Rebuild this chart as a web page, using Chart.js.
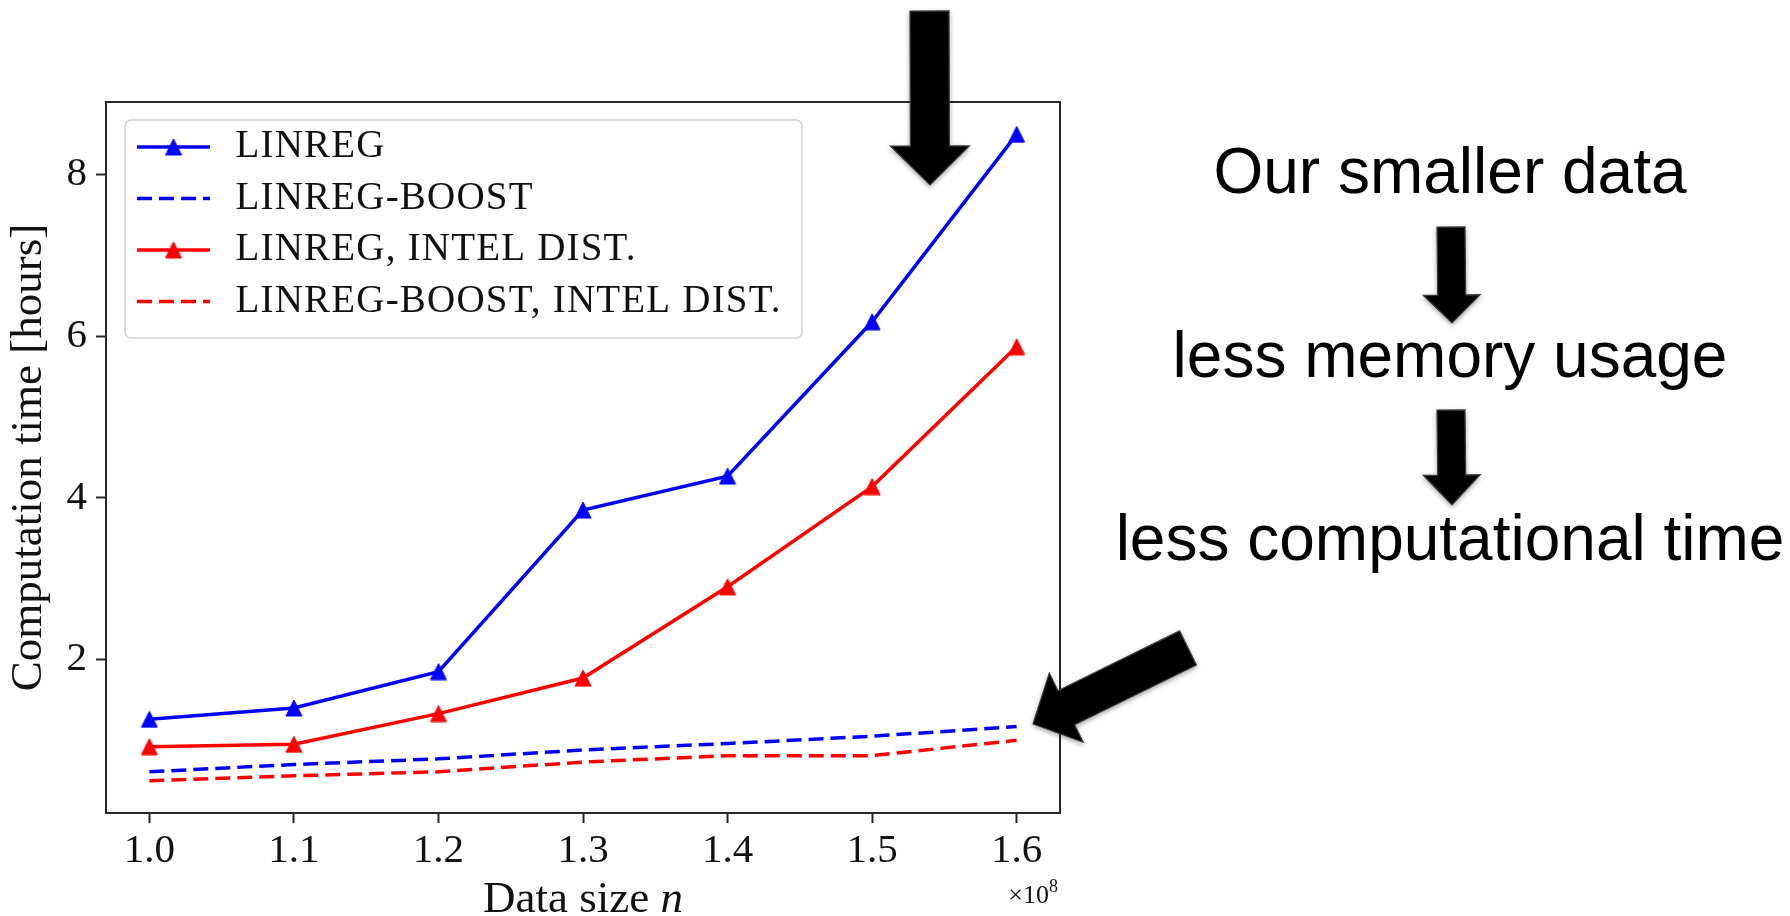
<!DOCTYPE html>
<html>
<head>
<meta charset="utf-8">
<script src="https://cdn.jsdelivr.net/npm/chart.js@4.4.0/dist/chart.umd.min.js"></script>
<style>
  html, body { margin: 0; padding: 0; background: #ffffff; }
  #wrap { position: relative; width: 1790px; height: 916px; overflow: hidden; }
  #chart { position: absolute; left: 0; top: 0; }
  #notes { position: absolute; left: 0; top: 0; pointer-events: none; }
</style>
</head>
<body>
<div id="wrap">
  <canvas id="chart" width="1790" height="916"></canvas>
  <svg id="notes" width="1790" height="916" xmlns="http://www.w3.org/2000/svg"></svg>
</div>
<script>
// Data sizes (in units of 10^8 rows) and measured run times in hours
const dataSizes        = [1.0, 1.1, 1.2, 1.3, 1.4, 1.5, 1.6];
const linreg           = [1.26, 1.40, 1.85, 3.85, 4.27, 6.18, 8.50];
const linregBoost      = [0.61, 0.70, 0.77, 0.88, 0.96, 1.05, 1.17];
const linregIntel      = [0.92, 0.95, 1.33, 1.77, 2.90, 4.14, 5.87];
const linregBoostIntel = [0.50, 0.56, 0.61, 0.73, 0.81, 0.81, 1.00];

const seriesNames = ['LINREG', 'LINREG-BOOST', 'LINREG, INTEL DIST.', 'LINREG-BOOST, INTEL DIST.'];
const xTickValues = [1.0, 1.1, 1.2, 1.3, 1.4, 1.5, 1.6];
const yTickValues = [2, 4, 6, 8];
const xTitleText = 'Data size ';
const xTitleSymbol = 'n';
const xOffsetBase = '\u00d710';
const xOffsetExp = '8';
const yTitleText = 'Computation time [hours]';
const noteLines = ['Our smaller data', 'less memory usage', 'less computational time'];

const SERIF = '"Liberation Serif", "Times New Roman", serif';
const BLUE = '#0000ff';
const RED = '#ff0000';

// axis limits with a 5% margin around the data, like matplotlib autoscaling
function paddedRange(values, frac) {
  const lo = Math.min(...values), hi = Math.max(...values);
  const pad = (hi - lo) * frac;
  return [lo - pad, hi + pad];
}
const [xMin, xMax] = paddedRange(dataSizes, 0.05);
const [yMin, yMax] = paddedRange([].concat(linreg, linregBoost, linregIntel, linregBoostIntel), 0.05);

// "^" marker: triangle with equal width and height
function triangleMarker(color, size) {
  const c = document.createElement('canvas');
  c.width = size + 2; c.height = size + 2;
  const g = c.getContext('2d');
  g.fillStyle = color;
  g.strokeStyle = color;
  g.lineWidth = 1;
  g.beginPath();
  g.moveTo(1 + size / 2, 1);
  g.lineTo(1 + size, 1 + size);
  g.lineTo(1, 1 + size);
  g.closePath();
  g.fill();
  g.stroke();
  return c;
}
const blueTri = triangleMarker(BLUE, 16);
const redTri = triangleMarker(RED, 16);

const toPoints = ys => dataSizes.map((x, i) => ({ x: x, y: ys[i] }));

function series(label, values, color, dashed, marker) {
  return {
    label: label,
    data: toPoints(values),
    borderColor: color,
    backgroundColor: color,
    borderWidth: 3.5,
    borderDash: dashed ? [15, 7] : [],
    pointStyle: marker || 'circle',
    pointRadius: marker ? 8 : 0,
    pointHoverRadius: marker ? 8 : 0,
    tension: 0,
    fill: false
  };
}

// legend box drawn inside the plot, upper left
const boxLegend = {
  id: 'boxLegend',
  afterDatasetsDraw(chart) {
    const { ctx, chartArea } = chart;
    const left = chartArea.left + 19, top = chartArea.top + 18;
    const w = 677, h = 218;
    ctx.save();
    ctx.fillStyle = 'rgba(255,255,255,0.85)';
    ctx.strokeStyle = '#cfcfcf';
    ctx.lineWidth = 1.5;
    ctx.beginPath();
    ctx.roundRect(left, top, w, h, 6);
    ctx.fill();
    ctx.stroke();
    chart.data.datasets.forEach((ds, i) => {
      const y = top + 27 + i * 51.5;
      ctx.strokeStyle = ds.borderColor;
      ctx.lineWidth = ds.borderWidth;
      ctx.setLineDash(ds.borderDash || []);
      ctx.beginPath();
      ctx.moveTo(left + 12, y);
      ctx.lineTo(left + 85, y);
      ctx.stroke();
      ctx.setLineDash([]);
      if (ds.pointStyle && typeof ds.pointStyle === 'object') {
        const m = ds.pointStyle;
        ctx.drawImage(m, left + 48.5 - m.width / 2, y - m.height / 2);
      }
      ctx.fillStyle = '#111111';
      ctx.font = '39px ' + SERIF;
      if ('letterSpacing' in ctx) ctx.letterSpacing = '1.2px';
      ctx.textBaseline = 'middle';
      ctx.textAlign = 'left';
      ctx.fillText(ds.label, left + 110.5, y);
      if ('letterSpacing' in ctx) ctx.letterSpacing = '0px';
    });
    ctx.restore();
  }
};

// full box frame around the plotting area
const axesFrame = {
  id: 'axesFrame',
  afterDraw(chart) {
    const { ctx, chartArea } = chart;
    ctx.save();
    ctx.strokeStyle = '#262626';
    ctx.lineWidth = 2;
    ctx.strokeRect(chartArea.left, chartArea.top, chartArea.right - chartArea.left, chartArea.bottom - chartArea.top);
    ctx.restore();
  }
};

// x axis title with an italic symbol, and the x10^8 offset text
const xAxisText = {
  id: 'xAxisText',
  afterDraw(chart) {
    const { ctx, chartArea } = chart;
    const xs = chart.scales.x;
    ctx.save();
    ctx.fillStyle = '#111111';
    ctx.textBaseline = 'alphabetic';
    ctx.textAlign = 'left';
    const regular = '45px ' + SERIF;
    const italic = 'italic 45px ' + SERIF;
    ctx.font = regular;
    const w1 = ctx.measureText(xTitleText).width;
    ctx.font = italic;
    const w2 = ctx.measureText(xTitleSymbol).width;
    const cx = (chartArea.left + chartArea.right) / 2;
    const base = xs.bottom - 4;
    const x0 = cx - (w1 + w2) / 2;
    ctx.font = regular;
    ctx.fillText(xTitleText, x0, base);
    ctx.font = italic;
    ctx.fillText(xTitleSymbol, x0 + w1, base);

    // offset multiplier at the right end of the axis
    const baseFont = '26px ' + SERIF;
    const expFont = '18px ' + SERIF;
    ctx.font = expFont;
    const we = ctx.measureText(xOffsetExp).width;
    ctx.font = baseFont;
    const wb = ctx.measureText(xOffsetBase).width;
    const right = chartArea.right - 2;
    const ob = xs.top + 90;
    ctx.fillText(xOffsetBase, right - we - wb, ob);
    ctx.font = expFont;
    ctx.fillText(xOffsetExp, right - we, ob - 11);
    ctx.restore();
  }
};

const tickGrid = {
  display: true,
  drawOnChartArea: false,
  drawTicks: true,
  tickLength: 10,
  tickWidth: 2,
  tickColor: '#262626'
};

new Chart(document.getElementById('chart'), {
  type: 'line',
  data: {
    datasets: [
      series(seriesNames[0], linreg, BLUE, false, blueTri),
      series(seriesNames[1], linregBoost, BLUE, true, null),
      series(seriesNames[2], linregIntel, RED, false, redTri),
      series(seriesNames[3], linregBoostIntel, RED, true, null)
    ]
  },
  options: {
    responsive: false,
    animation: false,
    devicePixelRatio: 1,
    layout: { padding: { left: 0, top: 102, right: 730, bottom: 0 } },
    plugins: {
      legend: { display: false },
      tooltip: { enabled: false }
    },
    scales: {
      x: {
        type: 'linear',
        min: xMin,
        max: xMax,
        afterBuildTicks: s => { s.ticks = xTickValues.map(v => ({ value: v })); },
        afterFit: s => { s.height = 103; },
        ticks: {
          callback: v => Number(v).toFixed(1),
          font: { family: SERIF, size: 41 },
          color: '#111111',
          padding: 4,
          maxRotation: 0,
          autoSkip: false
        },
        grid: tickGrid,
        border: { display: false }
      },
      y: {
        type: 'linear',
        min: yMin,
        max: yMax,
        afterBuildTicks: s => { s.ticks = yTickValues.map(v => ({ value: v })); },
        afterFit: s => { s.width = 106; },
        ticks: {
          callback: v => String(v),
          font: { family: SERIF, size: 41 },
          color: '#111111',
          padding: 9,
          autoSkip: false
        },
        title: {
          display: true,
          text: yTitleText,
          font: { family: SERIF, size: 45 },
          color: '#111111',
          padding: { top: 2, bottom: 0 }
        },
        grid: tickGrid,
        border: { display: false }
      }
    }
  },
  plugins: [boxLegend, axesFrame, xAxisText]
});

// right-hand notes and the block arrows
const arrowShapes = [
  { tail: [929.5, 11], tip: [930, 185], shaft: 39, head: 79, headLen: 39 },
  { tail: [1188, 648], tip: [1033, 724], shaft: 38, head: 77, headLen: 37 },
  { tail: [1451, 227], tip: [1452, 323], shaft: 28, head: 57, headLen: 28 },
  { tail: [1451, 410], tip: [1452, 505], shaft: 28, head: 57, headLen: 30 }
];
const noteBaselines = [193, 377, 560];
const noteCenterX = 1450;

const NS = 'http://www.w3.org/2000/svg';
const svg = document.getElementById('notes');

const defs = document.createElementNS(NS, 'defs');
defs.innerHTML =
  '<filter id="shade" x="-20%" y="-20%" width="140%" height="140%">' +
  '<feDropShadow dx="0" dy="2" stdDeviation="2.5" flood-color="#000" flood-opacity="0.35"/>' +
  '</filter>';
svg.appendChild(defs);

function arrowPath(a) {
  const dx = a.tip[0] - a.tail[0], dy = a.tip[1] - a.tail[1];
  const len = Math.hypot(dx, dy);
  const ux = dx / len, uy = dy / len;
  const nx = -uy, ny = ux;
  const bx = a.tip[0] - ux * a.headLen, by = a.tip[1] - uy * a.headLen;
  const s = a.shaft / 2, h = a.head / 2;
  const pts = [
    [a.tail[0] + nx * s, a.tail[1] + ny * s],
    [bx + nx * s, by + ny * s],
    [bx + nx * h, by + ny * h],
    [a.tip[0], a.tip[1]],
    [bx - nx * h, by - ny * h],
    [bx - nx * s, by - ny * s],
    [a.tail[0] - nx * s, a.tail[1] - ny * s]
  ];
  return 'M' + pts.map(p => p[0].toFixed(1) + ',' + p[1].toFixed(1)).join(' L') + ' Z';
}

arrowShapes.forEach(a => {
  const p = document.createElementNS(NS, 'path');
  p.setAttribute('d', arrowPath(a));
  p.setAttribute('fill', '#050505');
  p.setAttribute('stroke', '#3c3c3c');
  p.setAttribute('stroke-width', '1.2');
  p.setAttribute('stroke-linejoin', 'miter');
  p.setAttribute('filter', 'url(#shade)');
  svg.appendChild(p);
});

noteLines.forEach((line, i) => {
  const t = document.createElementNS(NS, 'text');
  t.setAttribute('x', noteCenterX);
  t.setAttribute('y', noteBaselines[i]);
  t.setAttribute('text-anchor', 'middle');
  t.setAttribute('font-family', '"Liberation Sans", Arial, Helvetica, sans-serif');
  t.setAttribute('font-size', '64');
  t.setAttribute('fill', '#000000');
  t.textContent = line;
  svg.appendChild(t);
});
</script>
</body>
</html>
